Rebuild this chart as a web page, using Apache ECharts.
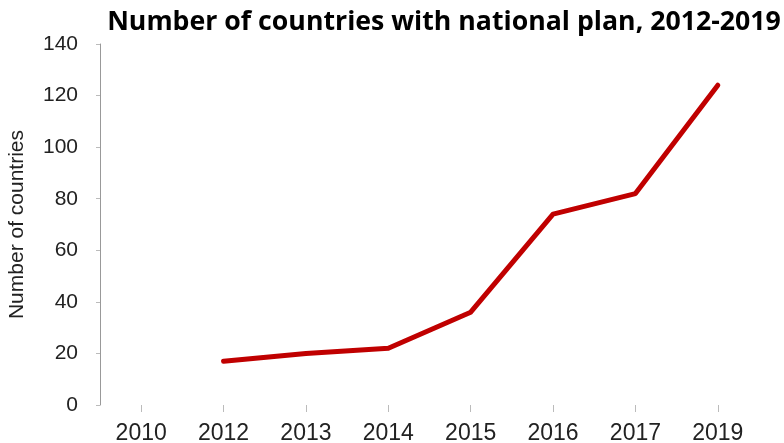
<!DOCTYPE html>
<html>
<head>
<meta charset="utf-8">
<script src="https://cdn.jsdelivr.net/npm/echarts@6/dist/echarts.min.js"></script>
<style>
  html, body { margin: 0; padding: 0; background: #fff; }
  #chart { width: 784px; height: 443px; }
</style>
</head>
<body>
<div id="chart"></div>
<script>
// Years on the category axis (2010 has no value)
const years = ['2010', '2012', '2013', '2014', '2015', '2016', '2017', '2019'];
// Countries with a national plan per year
const countries = [null, 17, 20, 22, 36, 74, 82, 124];
// Value-axis ticks
const yTicks = [0, 20, 40, 60, 80, 100, 120, 140];

const chart = echarts.init(document.getElementById('chart'));
chart.setOption({
  animation: false,
  title: {
    text: 'Number of countries with national plan, 2012-2019',
    left: 439,
    textAlign: 'center',
    top: 4,
    textStyle: { fontFamily: 'Open Sans', fontWeight: 'bold', fontSize: 26.7, color: '#000' }
  },
  grid: { left: 100, right: 25, top: 44, bottom: 38, containLabel: false, outerBoundsMode: 'none' },
  xAxis: {
    type: 'category',
    data: years,
    boundaryGap: true,
    axisLine: { show: false },
    axisTick: { show: true, alignWithLabel: true, length: 7, lineStyle: { color: '#bbb' } },
    axisLabel: { fontFamily: 'Liberation Sans', fontSize: 23, color: '#222', margin: 17 }
  },
  yAxis: {
    type: 'value',
    min: yTicks[0],
    max: yTicks[yTicks.length - 1],
    interval: 20,
    name: 'Number of countries',
    nameLocation: 'middle',
    nameGap: 72,
    nameTextStyle: { fontFamily: 'Liberation Sans', fontSize: 21, color: '#222' },
    axisLine: { show: true, lineStyle: { color: '#999' } },
    axisTick: { show: true, length: 4, lineStyle: { color: '#bbb' } },
    splitLine: { show: false },
    axisLabel: { fontFamily: 'Liberation Sans', fontSize: 21, color: '#222', margin: 22 }
  },
  series: [{
    type: 'line',
    data: countries,
    showSymbol: false,
    symbol: 'none',
    lineStyle: { color: '#c00000', width: 5, join: 'round', cap: 'round' }
  }]
});
</script>
</body>
</html>
